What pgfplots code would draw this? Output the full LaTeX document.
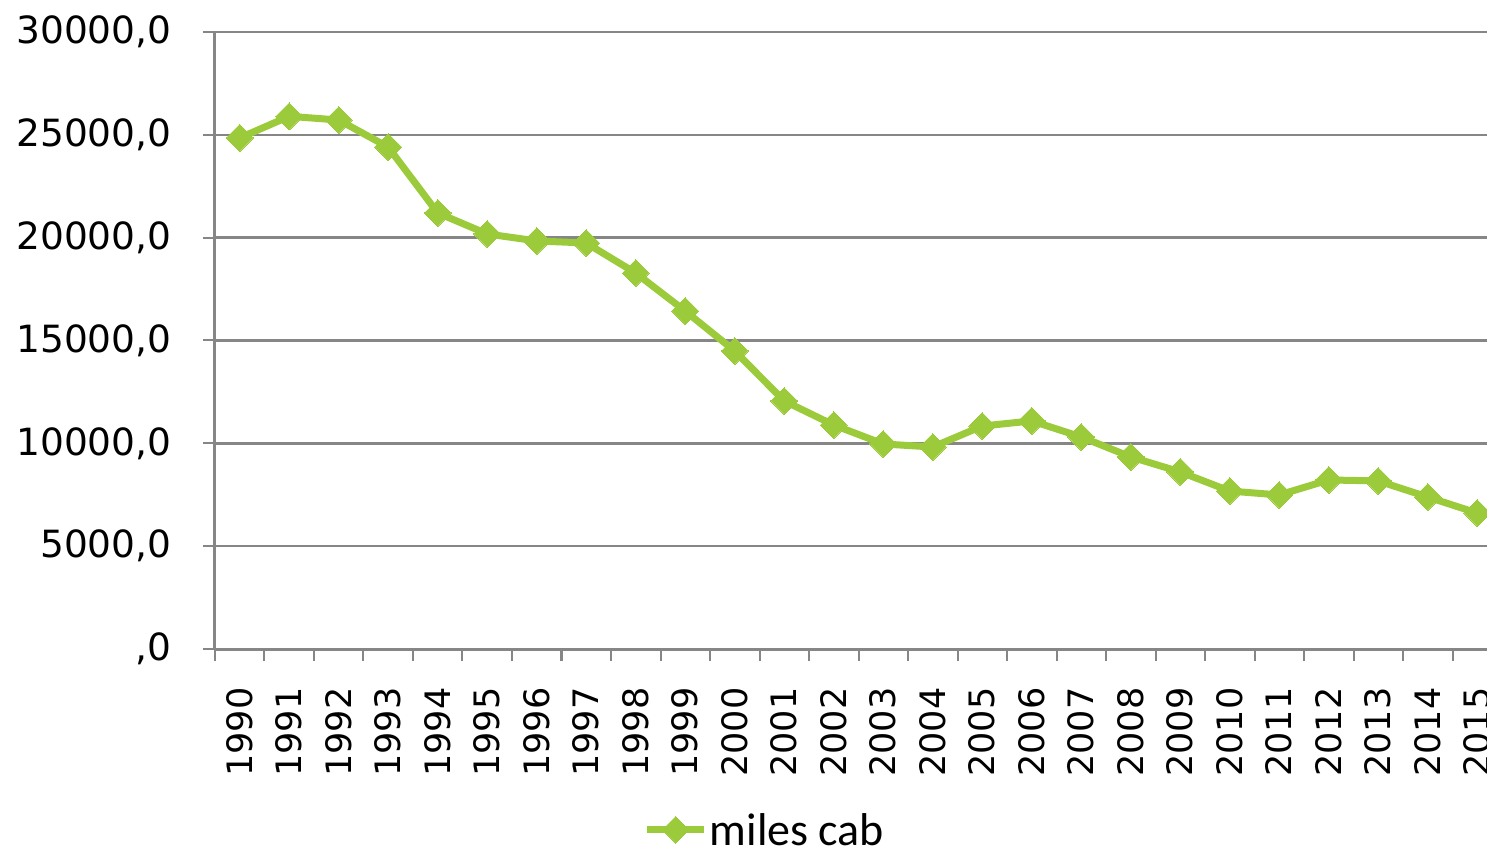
\documentclass[border=0pt]{standalone}
\usepackage{fontspec}
\usepackage{pgfplots}
\pgfplotsset{compat=1.18}
\newfontfamily\tickfont{DejaVu Sans}
\newfontfamily\legfont{Carlito}
\definecolor{linegreen}{RGB}{155,203,59}
\definecolor{gridgray}{RGB}{134,134,134}

\begin{document}
\begin{tikzpicture}
\begin{axis}[
    scale only axis,
    width=1287pt, height=617pt,
    xmin=-0.5, xmax=25.5,
    ymin=0, ymax=30000,
    axis x line*=bottom, axis y line*=left,
    axis line style={gridgray, line width=3pt, -},
    tick align=outside,
    major tick length=12pt,
    tick style={gridgray, line width=2pt},
    ymajorgrids,
    grid style={gridgray, line width=2.5pt},
    scaled y ticks=false,
    ytick={0,5000,10000,15000,20000,25000,30000},
    yticklabels={{,0},{5000,0},{10000,0},{15000,0},{20000,0},{25000,0},{30000,0}},
    yticklabel style={font=\tickfont\fontsize{37.5}{37.5}\selectfont},
    yticklabel shift=28pt,
    x tick label as interval,
    xtick={-0.5,0.5,...,25.5},
    xticklabels={1990,1991,1992,1993,1994,1995,1996,1997,1998,1999,2000,2001,2002,2003,2004,2005,2006,2007,2008,2009,2010,2011,2012,2013,2014,2015},
    xticklabel style={rotate=90, anchor=east, font=\tickfont\fontsize{35}{35}\selectfont},
    xticklabel shift=23pt,
    legend style={at={(0.333,-0.293)}, anchor=west, draw=none, fill=none,
        font=\legfont\fontsize{46}{46}\selectfont, inner sep=0pt},
    legend image code/.code={
        \draw[mark repeat=2, mark phase=2, #1] plot coordinates {(0pt,0pt) (28.5pt,0pt) (57pt,0pt)};
    },
]
\coordinate (O) at (rel axis cs:0,0);
\coordinate (T) at (rel axis cs:0,1);
\addplot[linegreen, line width=7pt, mark=square*, mark size=9.5pt,
    mark options={rotate=45, solid, fill=linegreen, draw=linegreen, line width=0pt}]
coordinates {
    (0,24850) (1,25900) (2,25720) (3,24400) (4,21200) (5,20180)
    (6,19840) (7,19740) (8,18280) (9,16430) (10,14490) (11,12060)
    (12,10890) (13,9970) (14,9820) (15,10840) (16,11090) (17,10310)
    (18,9340) (19,8610) (20,7680) (21,7490) (22,8220) (23,8170)
    (24,7390) (25,6610)
};
\legend{miles cab}
\end{axis}
\pgfresetboundingbox
\path[use as bounding box] ([shift={(-215pt,-199pt)}]O) rectangle ([shift={(1272pt,32pt)}]T);
\end{tikzpicture}
\end{document}
